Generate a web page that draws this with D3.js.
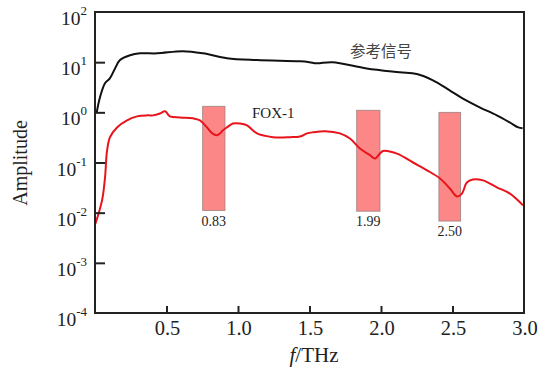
<!DOCTYPE html>
<html>
<head>
<meta charset="utf-8">
<script src="https://cdn.jsdelivr.net/npm/d3@7/dist/d3.min.js"></script>
<style>
  html, body { margin: 0; padding: 0; background: #fff; }
  svg { display: block; }
</style>
</head>
<body>
<svg id="chart" width="550" height="374"></svg>
<script>
// ---- data ----
const refFreq = [0.012, 0.035, 0.07, 0.105, 0.14, 0.175, 0.245, 0.315, 0.434, 0.615, 0.755, 0.923, 1.133, 1.434, 1.50, 1.55, 1.66, 1.90, 2.13, 2.25, 2.36, 2.48, 2.57, 2.69, 2.81, 2.90, 2.96, 2.99];
const refAmp  = [1.0, 2.0, 3.8, 4.8, 7.5, 11, 13.7, 15, 15, 16.5, 15, 12, 11, 10.4, 10, 9.5, 10, 7.5, 6.3, 5.8, 4.4, 2.75, 1.9, 1.26, 0.87, 0.63, 0.5, 0.48];

const foxFreq = [0.003, 0.05, 0.07, 0.084, 0.105, 0.154, 0.224, 0.294, 0.37, 0.406, 0.455, 0.49, 0.524, 0.594, 0.685, 0.734, 0.783, 0.82, 0.853, 0.874, 0.895, 0.923, 0.965, 1.014, 1.063, 1.133, 1.245, 1.364, 1.434, 1.483, 1.524, 1.61, 1.713, 1.783, 1.853, 1.923, 1.958, 2.014, 2.112, 2.224, 2.322, 2.413, 2.483, 2.531, 2.566, 2.60, 2.643, 2.713, 2.81, 2.902, 2.993];
const foxAmp  = [0.006, 0.018, 0.05, 0.17, 0.32, 0.5, 0.69, 0.83, 0.87, 0.87, 0.95, 1.05, 0.83, 0.79, 0.76, 0.69, 0.5, 0.38, 0.35, 0.38, 0.44, 0.5, 0.6, 0.6, 0.55, 0.38, 0.32, 0.32, 0.33, 0.38, 0.40, 0.42, 0.38, 0.30, 0.19, 0.14, 0.12, 0.17, 0.15, 0.10, 0.07, 0.048, 0.03, 0.021, 0.024, 0.04, 0.046, 0.044, 0.032, 0.024, 0.014];

const bandLabels = ["0.83", "1.99", "2.50"];
const bandStart  = [0.753, 1.83, 2.405];
const bandEnd    = [0.909, 1.993, 2.557];
const bandTop    = [1.32, 1.10, 1.0];
const bandBottom = [0.011, 0.0107, 0.0068];

const xTicks = [0.5, 1.0, 1.5, 2.0, 2.5, 3.0];
const xTickLabels = ["0.5", "1.0", "1.5", "2.0", "2.5", "3.0"];
const yTicks = [1e2, 1e1, 1e0, 1e-1, 1e-2, 1e-3, 1e-4];
const yTickExps = ["2", "1", "0", "-1", "-2", "-3", "-4"];

const seriesNames = ["参考信号", "FOX-1"];

// ---- layout ----
const svg = d3.select("#chart");
const L = 95, R = 524, T = 12, B = 313;
const x = d3.scaleLinear().domain([0, 3]).range([L, R]);
const y = d3.scaleLog().domain([1e-4, 1e2]).range([B, T]);
const serif = "'Liberation Serif', 'Times New Roman', serif";

// bands
const bands = svg.append("g");
bandLabels.forEach((lab, i) => {
  bands.append("rect")
    .attr("x", x(bandStart[i]))
    .attr("y", y(bandTop[i]))
    .attr("width", x(bandEnd[i]) - x(bandStart[i]))
    .attr("height", y(bandBottom[i]) - y(bandTop[i]))
    .attr("fill", "#fb8787")
    .attr("stroke", "#a08080")
    .attr("stroke-width", 0.8);
  bands.append("text")
    .attr("x", (x(bandStart[i]) + x(bandEnd[i])) / 2)
    .attr("y", y(bandBottom[i]) + 15)
    .attr("text-anchor", "middle")
    .attr("font-family", serif)
    .attr("font-size", 14)
    .attr("fill", "#222")
    .text(lab);
});

// lines
const line = d3.line()
  .x(d => x(d[0]))
  .y(d => y(d[1]))
  .curve(d3.curveCatmullRom.alpha(0.5));

svg.append("path")
  .datum(refFreq.map((f, i) => [f, refAmp[i]]))
  .attr("d", line)
  .attr("fill", "none")
  .attr("stroke", "#111")
  .attr("stroke-width", 2);

svg.append("path")
  .datum(foxFreq.map((f, i) => [f, foxAmp[i]]))
  .attr("d", line)
  .attr("fill", "none")
  .attr("stroke", "#e8141c")
  .attr("stroke-width", 2);

// frame
svg.append("rect")
  .attr("x", L).attr("y", T)
  .attr("width", R - L).attr("height", B - T)
  .attr("fill", "none")
  .attr("stroke", "#222")
  .attr("stroke-width", 2);

// axes (inside ticks)
const yAxis = d3.axisLeft(y).tickValues(yTicks.slice(1, -1)).tickSize(-10).tickFormat("");
const gy = svg.append("g").attr("transform", `translate(${L},0)`).call(yAxis);
gy.select(".domain").remove();
gy.selectAll("line").attr("stroke", "#222").attr("stroke-width", 2);

const xAxis = d3.axisBottom(x).tickValues(xTicks.slice(0, -1)).tickSize(-7).tickFormat("");
const gx = svg.append("g").attr("transform", `translate(0,${B})`).call(xAxis);
gx.select(".domain").remove();
gx.selectAll("line").attr("stroke", "#222").attr("stroke-width", 2);

// y tick labels 10^n
yTicks.forEach((v, i) => {
  const t = svg.append("text")
    .attr("x", 87)
    .attr("y", y(v) + 13)
    .attr("text-anchor", "end")
    .attr("font-family", serif)
    .attr("font-size", 19.5)
    .attr("fill", "#222");
  t.append("tspan").text("10");
  t.append("tspan").attr("dy", -10).attr("font-size", 13).text(yTickExps[i]);
});

// x tick labels
xTicks.forEach((v, i) => {
  svg.append("text")
    .attr("x", x(v) + 1)
    .attr("y", 335)
    .attr("text-anchor", "middle")
    .attr("font-family", serif)
    .attr("font-size", 20.5)
    .attr("fill", "#222")
    .text(xTickLabels[i]);
});

// axis titles
const xt = svg.append("text")
  .attr("x", 314).attr("y", 362)
  .attr("text-anchor", "middle")
  .attr("font-family", serif)
  .attr("font-size", 21)
  .attr("fill", "#222");
xt.append("tspan").attr("font-style", "italic").text("f");
xt.append("tspan").text("/THz");

svg.append("text")
  .attr("transform", "translate(27,163) rotate(-90)")
  .attr("text-anchor", "middle")
  .attr("font-family", serif)
  .attr("font-size", 20)
  .attr("fill", "#222")
  .text("Amplitude");

// series labels
svg.append("text")
  .attr("x", 350).attr("y", 57)
  .attr("font-family", "'Noto Sans CJK SC', sans-serif")
  .attr("font-size", 15.5)
  .attr("fill", "#444")
  .text(seriesNames[0]);

svg.append("text")
  .attr("x", 252).attr("y", 118)
  .attr("font-family", serif)
  .attr("font-size", 15)
  .attr("fill", "#222")
  .text(seriesNames[1]);
</script>
</body>
</html>
